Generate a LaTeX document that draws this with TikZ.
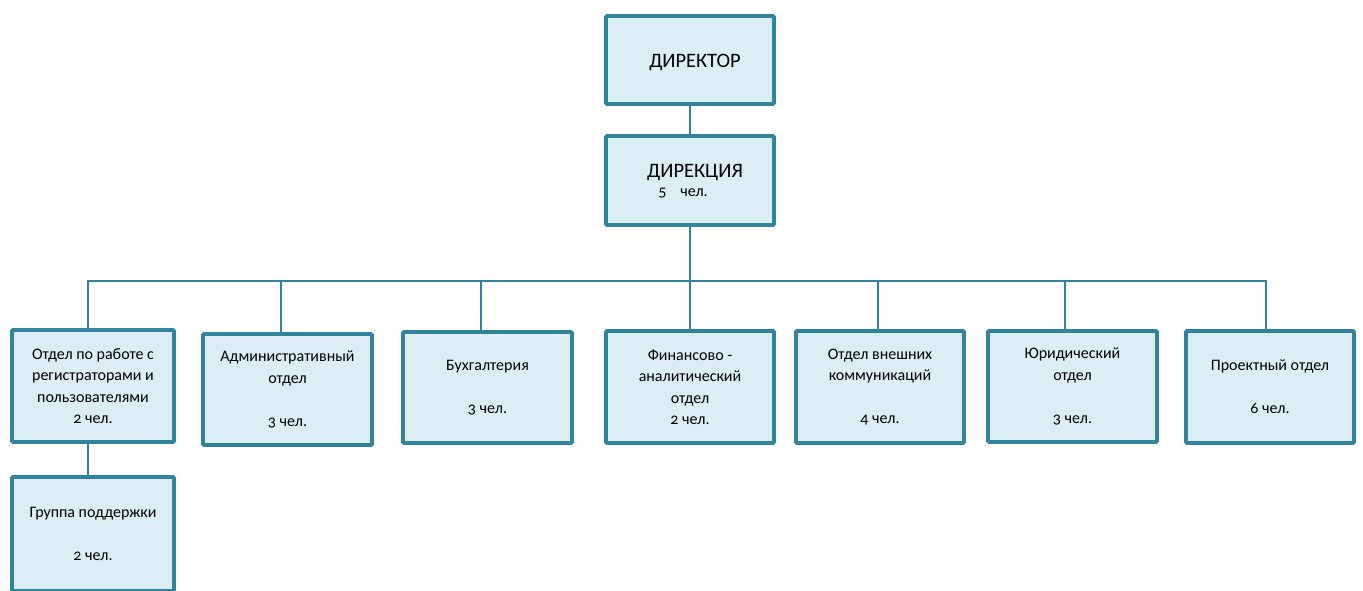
\documentclass[tikz,border=0pt]{standalone}
\usepackage{fontspec}
\setmainfont[Numbers=OldStyle]{Carlito}
\definecolor{edge}{HTML}{31849B}
\definecolor{boxfill}{HTML}{DBEEF4}
\begin{document}
\begin{tikzpicture}[x=1pt,y=-1pt,
  box/.style={draw=edge,fill=boxfill,line width=3.6pt,rounded corners=1pt,inner sep=0pt,align=center,font=\fontsize{16}{21.5}\selectfont},
  link/.style={draw=edge,line width=2pt}]
\useasboundingbox (0,0) rectangle (1363,590);
% top boxes
\node[box,minimum width=168pt,minimum height=88pt] (dir) at (690,60) {};
\node[font=\fontsize{20.5}{22}\selectfont] (dirt) at (695,62) {ДИРЕКТОР};
\node[box,minimum width=168pt,minimum height=89pt] (direc) at (690,180.5) {};
\node[font=\fontsize{20.5}{22}\selectfont] (direct) at (695,173) {ДИРЕКЦИЯ};
\node[font=\fontsize{16}{20}\selectfont] (direcn) at (683,193) {5\hspace{14pt}чел.};
% row boxes
\node[box,minimum width=162pt,minimum height=112pt] (b1) at (93,386) {Отдел по работе с\\регистраторами и\\пользователями\\2 чел.};
\node[box,minimum width=169pt,minimum height=111pt] (b2) at (287.5,389.5) {Административный\\отдел\\\\3 чел.};
\node[box,minimum width=169pt,minimum height=111pt] (b3) at (487.5,387.5) {Бухгалтерия\\\\3 чел.};
\node[box,minimum width=168pt,minimum height=112pt] (b4) at (690,387) {Финансово -\\аналитический\\отдел\\2 чел.};
\node[box,minimum width=168pt,minimum height=112pt] (b5) at (880,387) {Отдел внешних\\коммуникаций\\\\4 чел.};
\node[box,minimum width=169pt,minimum height=111pt] (b6) at (1072.5,386.5) {Юридический\\отдел\\\\3 чел.};
\node[box,minimum width=168pt,minimum height=112pt] (b7) at (1270,387) {Проектный отдел\\\\6 чел.};
\node[box,minimum width=162pt,minimum height=114pt] (b8) at (93,534) {Группа поддержки\\\\2 чел.};
% connectors
\coordinate (bus) at (690,281);
\coordinate (s1) at (88,281);
\coordinate (s2) at (281,281);
\coordinate (s3) at (481,281);
\coordinate (s5) at (878,281);
\coordinate (s6) at (1065,281);
\coordinate (s7) at (1266,281);
\draw[link] (dir.south) -- (direc.north);
\draw[link] (direc.south) -- (bus);
\draw[link] (s1 |- b1.north) -- (s1) -- (s7) -- (s7 |- b7.north);
\draw[link] (s2) -- (s2 |- b2.north);
\draw[link] (s3) -- (s3 |- b3.north);
\draw[link] (bus) -- (b4.north);
\draw[link] (s5) -- (s5 |- b5.north);
\draw[link] (s6) -- (s6 |- b6.north);
\draw[link] (s1 |- b1.south) -- (s1 |- b8.north);
\end{tikzpicture}
\end{document}
